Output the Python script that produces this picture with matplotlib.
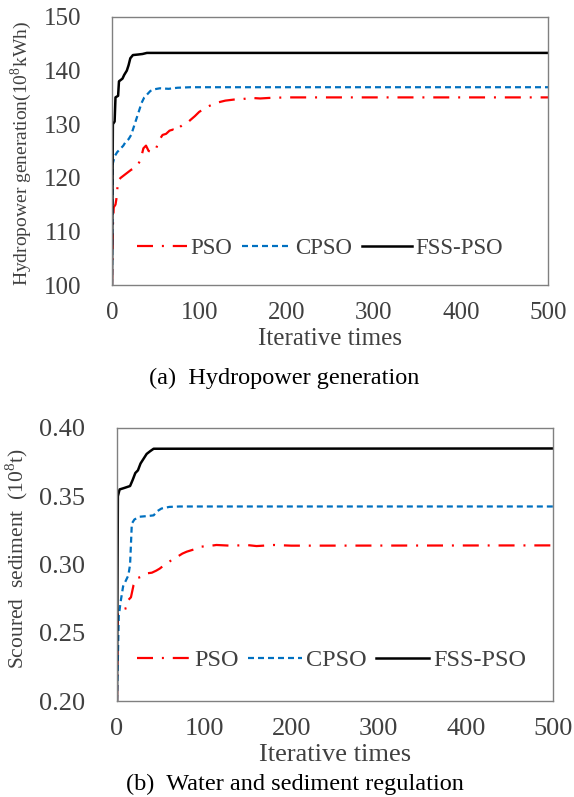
import matplotlib
matplotlib.use("Agg")
import matplotlib.pyplot as plt

plt.rcParams["font.family"] = ["Liberation Serif", "DejaVu Serif"]
plt.rcParams["mathtext.fontset"] = "custom"
plt.rcParams["mathtext.rm"] = "Liberation Serif"

TEXT = "#404040"

# ---- (a) hydropower generation, 10^8 kWh ----
pso_a_it = [0, 1, 2, 4, 5, 7, 10, 14, 18, 22, 26, 30, 33, 36, 39, 42, 46, 50, 54, 58,
            62, 66, 70, 74, 78, 82, 86, 90, 95, 100, 105, 110, 120, 130, 140, 150,
            160, 170, 180, 200, 500]
pso_a = [100, 111, 114.5, 115, 116, 119.5, 120, 120.5, 121, 121.5, 121.8, 122.5, 123.5,
         125.5, 126, 125, 124.8, 125.2, 127, 128, 128.2, 128.8, 129, 128.7, 129.5, 130,
         130.2, 130.8, 131.5, 132.3, 132.8, 133.3, 134, 134.4, 134.6, 134.7, 134.9,
         134.8, 134.9, 135, 135]

cpso_a_it = [0, 1, 3, 6, 9, 13, 16, 19, 22, 25, 28, 31, 34, 37, 40, 44, 48, 55, 65, 75, 90, 500]
cpso_a = [100, 122.7, 124, 124.8, 125.3, 126, 126.8, 127.2, 128, 129.5, 131, 132.5, 134,
          135, 135.5, 136.2, 136.5, 136.7, 136.6, 136.8, 136.9, 136.9]

fss_a_it = [0, 1, 3, 4, 7, 8, 12, 14, 17, 19, 21, 24, 30, 35, 40, 500]
fss_a = [100, 130, 130.5, 135, 135.3, 138, 138.5, 139.2, 140, 141, 142.3, 142.9, 143,
         143.1, 143.3, 143.3]

# ---- (b) scoured sediment, 10^8 t ----
pso_b_it = [0, 1, 5, 11, 13, 16, 19, 23, 28, 34, 40, 45, 49, 55, 60, 65, 70, 75, 80, 88,
            95, 105, 114, 130, 150, 160, 180, 200, 500]
pso_b = [0.20, 0.265, 0.267, 0.268, 0.274, 0.276, 0.285, 0.290, 0.291, 0.2935, 0.294,
         0.2955, 0.297, 0.300, 0.302, 0.3045, 0.306, 0.308, 0.3094, 0.311, 0.313, 0.3135,
         0.3143, 0.3138, 0.3142, 0.3135, 0.3143, 0.3138, 0.314]

cpso_b_it = [0, 2, 4, 7, 10, 13, 15, 17, 20, 26, 35, 42, 46, 51, 60, 72, 500]
cpso_b = [0.20, 0.262, 0.272, 0.284, 0.288, 0.292, 0.300, 0.330, 0.333, 0.335, 0.3355,
          0.336, 0.339, 0.341, 0.3422, 0.3425, 0.3425]

fss_b_it = [0, 1, 3, 8, 15, 18, 21, 24, 27, 30, 34, 38, 42, 500]
fss_b = [0.20, 0.350, 0.355, 0.356, 0.3575, 0.362, 0.367, 0.369, 0.374, 0.377, 0.381,
         0.383, 0.3848, 0.385]

labels = ["PSO", "CPSO", "FSS-PSO"]
ylim_a = (100, 150)
yticks_a = [100, 110, 120, 130, 140, 150]
ylim_b = (0.20, 0.40)
yticks_b = [0.20, 0.25, 0.30, 0.35, 0.40]
xticks = [0, 100, 200, 300, 400, 500]


def draw_panel(ax, series, ylim, yticks, fmt, ylabel, ylabel_fs, ylabel_xy,
               legend_xy, fs, legend_fs, ypad):
    (p_it, p), (c_it, c), (f_it, f) = series
    ax.plot(p_it, p, color="#FF0000", lw=1.6, dashes=(7.2, 4, 0.9, 4), label=labels[0])
    ax.plot(c_it, c, color="#0070C0", lw=1.6, dashes=(2.7, 1.8), label=labels[1])
    ax.plot(f_it, f, color="black", lw=1.8, label=labels[2])

    ax.set_xlim(0, 500)
    ax.set_ylim(*ylim)
    ax.set_xticks(xticks)
    ax.set_yticks(yticks)
    ax.set_yticklabels([fmt.format(v) for v in yticks])
    ax.tick_params(length=0, labelsize=fs, labelcolor=TEXT)
    ax.tick_params(axis="y", pad=ypad)
    ax.tick_params(axis="x", pad=12)
    for s in ax.spines.values():
        s.set_color("#808080")
        s.set_linewidth(1.0)

    ax.set_xlabel("Iterative times", fontsize=fs, color=TEXT, labelpad=3)
    ax.set_ylabel(ylabel, fontsize=ylabel_fs, color=TEXT)
    ax.yaxis.set_label_coords(*ylabel_xy)

    ax.legend(loc="center left", bbox_to_anchor=legend_xy, ncol=3, frameon=False,
              fontsize=legend_fs, handlelength=2.2, handletextpad=0.15, columnspacing=0.4,
              borderaxespad=0, borderpad=0, labelcolor=TEXT)


fig = plt.figure(figsize=(5.74, 7.97), dpi=100)

ax1 = fig.add_axes([112 / 574, 1 - 285 / 797, 436 / 574, 268 / 797])
draw_panel(ax1, [(pso_a_it, pso_a), (cpso_a_it, cpso_a), (fss_a_it, fss_a)],
           ylim_a, yticks_a, "{:.0f}", "Hydropower generation(10$^8$kWh)", 14,
           (-0.18, 0.49), (0.057, 0.138), 18, 16.5, 22)

ax2 = fig.add_axes([117 / 574, 1 - 701 / 797, 436 / 574, 273 / 797])
draw_panel(ax2, [(pso_b_it, pso_b), (cpso_b_it, cpso_b), (fss_b_it, fss_b)],
           ylim_b, yticks_b, "{:.2f}", "Scoured  sediment  (10$^8$t)", 15.5,
           (-0.2, 0.52), (0.046, 0.15), 19, 17.5, 23)

fig.text(284 / 574, 1 - 378 / 797, "(a)  Hydropower generation", ha="center", va="center",
         fontsize=17.5, color="black")
fig.text(295 / 574, 1 - 784 / 797, "(b)  Water and sediment regulation", ha="center",
         va="center", fontsize=17.5, color="black")

fig.savefig("out.png", dpi=100)
